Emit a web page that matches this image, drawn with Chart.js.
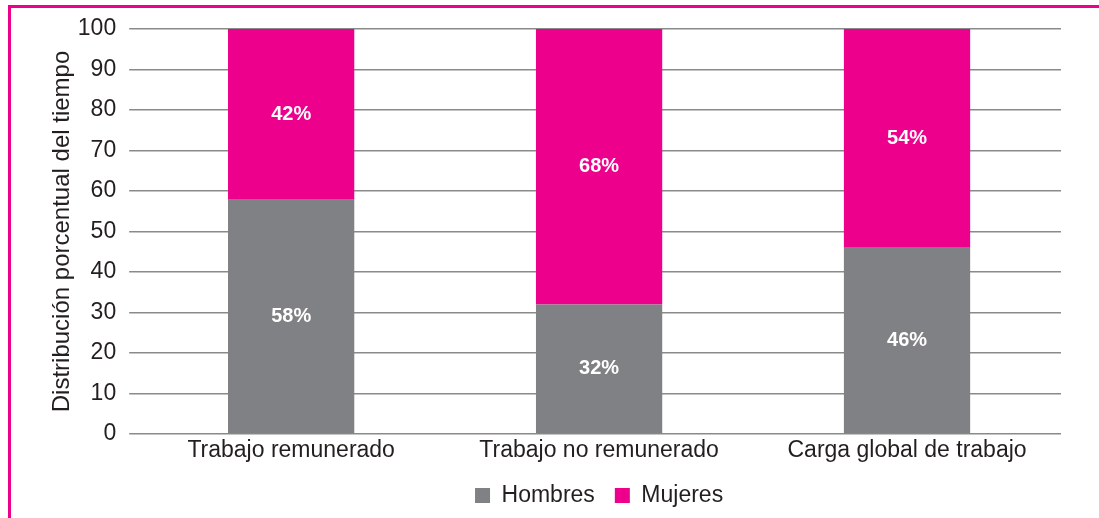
<!DOCTYPE html>
<html>
<head>
<meta charset="utf-8">
<script src="https://cdn.jsdelivr.net/npm/chart.js@4/dist/chart.umd.min.js"></script>
<style>
  html, body { margin: 0; padding: 0; background: #fff; }
  #wrap { position: relative; width: 1099px; height: 518px; }
  #frame {
    position: absolute; left: 8px; top: 5px; right: -10px; bottom: -10px;
    border-top: 3px solid #ec008c; border-left: 3px solid #ec008c;
    pointer-events: none;
  }
</style>
</head>
<body>
<div id="wrap">
  <canvas id="chart" width="1099" height="518"></canvas>
  <div id="frame"></div>
</div>
<script>
const categories = ['Trabajo remunerado', 'Trabajo no remunerado', 'Carga global de trabajo'];
const hombres = [58, 32, 46];
const mujeres = [42, 68, 54];
const yTicks = [0, 10, 20, 30, 40, 50, 60, 70, 80, 90, 100];

const textColor = '#231f20';
const fontFamily = '"Liberation Sans", Arial, sans-serif';

// etiquetas con el porcentaje en el centro de cada segmento
const segmentLabels = {
  id: 'segmentLabels',
  afterDatasetsDraw(chart) {
    const ctx = chart.ctx;
    ctx.save();
    ctx.font = 'bold 20px ' + fontFamily;
    ctx.fillStyle = '#ffffff';
    ctx.textAlign = 'center';
    ctx.textBaseline = 'middle';
    chart.data.datasets.forEach((ds, i) => {
      const meta = chart.getDatasetMeta(i);
      meta.data.forEach((bar, j) => {
        const p = bar.getProps(['x', 'y', 'base'], true);
        ctx.fillText(ds.data[j] + '%', p.x, (p.y + p.base) / 2);
      });
    });
    ctx.restore();
  }
};

new Chart(document.getElementById('chart').getContext('2d'), {
  type: 'bar',
  data: {
    labels: categories,
    datasets: [
      { label: 'Hombres', data: hombres, backgroundColor: '#808184', borderWidth: 0 },
      { label: 'Mujeres', data: mujeres, backgroundColor: '#ec008c', borderWidth: 0 }
    ]
  },
  options: {
    responsive: false,
    animation: false,
    layout: { padding: { top: 29, right: 38, left: 10, bottom: 1 } },
    datasets: { bar: { barPercentage: 0.41, categoryPercentage: 1 } },
    scales: {
      x: {
        stacked: true,
        grid: { display: false, drawTicks: false },
        border: { display: false },
        ticks: { color: textColor, padding: 3, font: { family: fontFamily, size: 23 } },
        afterFit: (scale) => { scale.height = 30; }
      },
      y: {
        stacked: true,
        min: 0,
        max: 100,
        afterBuildTicks: (axis) => { axis.ticks = yTicks.map(v => ({ value: v })); },
        grid: { color: '#8a8a8a', lineWidth: 1.5, tickLength: 8, tickColor: '#8a8a8a' },
        border: { display: false },
        ticks: { color: textColor, padding: 13, font: { family: fontFamily, size: 23 } },
        title: {
          display: true,
          text: 'Distribución porcentual del tiempo',
          color: textColor,
          font: { family: fontFamily, size: 24 },
          padding: { top: 38, bottom: -12 }
        }
      }
    },
    plugins: {
      legend: {
        position: 'bottom',
        fullSize: false,
        labels: {
          color: textColor,
          boxWidth: 15,
          boxHeight: 15,
          padding: 20,
          font: { family: fontFamily, size: 23, lineHeight: 0.4 }
        }
      },
      tooltip: { enabled: false }
    }
  },
  plugins: [segmentLabels]
});
</script>
</body>
</html>
